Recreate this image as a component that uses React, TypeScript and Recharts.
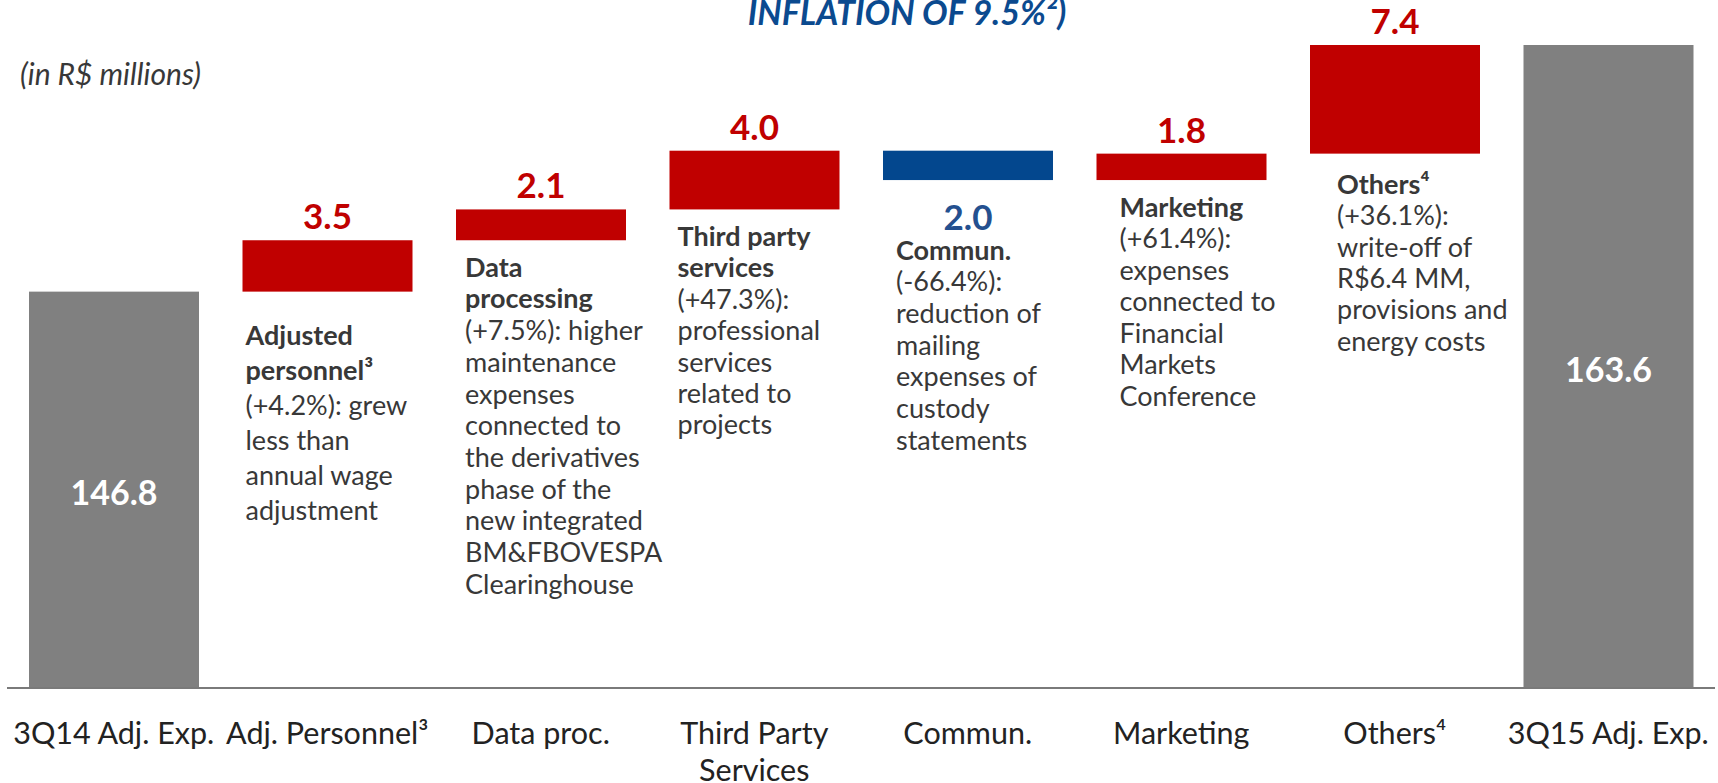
import React from "react";
import { BarChart, Bar, XAxis, YAxis } from "recharts";

// categories along the x axis ("\n" = line break in the tick)
const categories = [
  "3Q14 Adj. Exp.",
  "Adj. Personnel³",
  "Data proc.",
  "Third Party\nServices",
  "Commun.",
  "Marketing",
  "Others⁴",
  "3Q15 Adj. Exp.",
];

// totals and the changes between them, R$ millions
const changes = [146.8, 3.5, 2.1, 4.0, -2.0, 1.8, 7.4, 163.6];
const steps = ["total", "up", "up", "up", "down", "up", "up", "total"];

// bold heading of each comment, then the plain lines
const noteHeads = [
  [],
  ["Adjusted", "personnel³"],
  ["Data", "processing"],
  ["Third party", "services"],
  ["Commun."],
  ["Marketing"],
  ["Others⁴"],
  [],
];
const noteBodies = [
  [],
  ["(+4.2%): grew", "less than", "annual wage", "adjustment"],
  [
    "(+7.5%): higher",
    "maintenance",
    "expenses",
    "connected to",
    "the derivatives",
    "phase of the",
    "new integrated",
    "BM&FBOVESPA",
    "Clearinghouse",
  ],
  ["(+47.3%):", "professional", "services", "related to", "projects"],
  ["(-66.4%):", "reduction of", "mailing", "expenses of", "custody", "statements"],
  ["(+61.4%):", "expenses", "connected to", "Financial", "Markets", "Conference"],
  ["(+36.1%):", "write-off of", "R$6.4 MM,", "provisions and", "energy costs"],
  [],
];

// the value axis is cut, bars start at this value
const AXIS_MIN = 119.8;
const AXIS_MAX = 163.6;

const RED = "#C00000";
const BLUE = "#03478E";
const BLUE_TEXT = "#24508F";
const GRAY = "#808080";
const TEXT = "#383838";
const FONT = "Lato, 'Open Sans', sans-serif";

// where the comment block sits under each bar (px)
const NOTE_DX = [0, 3, 9, 8, 13, 23, 27, 0];
const NOTE_GAP = [0, 43, 26, 26, 69, 26, 30, 0];
const NOTE_LEADING = [0, 35, 31.7, 31.4, 31.7, 31.5, 31.3, 0];

let running = 0;
const data = categories.map((name, i) => {
  const start = running;
  if (steps[i] === "total") {
    running = changes[i];
    return { name, span: [AXIS_MIN, changes[i]], idx: i };
  }
  running = Math.round((running + changes[i]) * 10) / 10;
  return {
    name,
    span: [Math.min(start, running), Math.max(start, running)],
    idx: i,
  };
});

const WaterfallBar = (props: any) => {
  const { x, y, width, height, payload } = props;
  const i = payload.idx;
  const top = height < 0 ? y + height : y;
  const h = Math.abs(height);
  const bottom = top + h;
  const cx = x + width / 2;
  const step = steps[i];
  const fill = step === "total" ? GRAY : step === "down" ? BLUE : RED;
  const label = Math.abs(changes[i]).toFixed(1);
  const lines = [
    ...noteHeads[i].map((t) => ({ t, bold: true })),
    ...noteBodies[i].map((t) => ({ t, bold: false })),
  ];

  return (
    <g fontFamily={FONT}>
      <rect x={x} y={top} width={width} height={h} fill={fill} />
      {step === "total" && (
        <text
          x={cx}
          y={top + h / 2 + 2}
          dominantBaseline="central"
          textAnchor="middle"
          fill="#fff"
          fontSize={34}
          fontWeight={700}
        >
          {label}
        </text>
      )}
      {step === "up" && (
        <text
          x={cx}
          y={top - 25}
          dominantBaseline="central"
          textAnchor="middle"
          fill={RED}
          fontSize={35}
          fontWeight={700}
        >
          {label}
        </text>
      )}
      {step === "down" && (
        <text
          x={cx}
          y={bottom + 36}
          dominantBaseline="central"
          textAnchor="middle"
          fill={BLUE_TEXT}
          fontSize={35}
          fontWeight={700}
        >
          {label}
        </text>
      )}
      {lines.map((line, k) => (
        <text
          key={k}
          x={x + NOTE_DX[i]}
          y={bottom + NOTE_GAP[i] + k * NOTE_LEADING[i]}
          dominantBaseline="central"
          fill={TEXT}
          fontSize={27}
          fontWeight={line.bold ? 700 : 400}
        >
          {line.t}
        </text>
      ))}
    </g>
  );
};

const CategoryTick = (props: any) => {
  const { x, y, payload } = props;
  const lines = String(payload.value).split("\n");
  return (
    <g>
      {lines.map((line, k) => (
        <text
          key={k}
          x={x}
          y={y + 44 + k * 37}
          textAnchor="middle"
          dominantBaseline="central"
          fill="#222"
          fontSize={30.5}
          fontFamily={FONT}
        >
          {line}
        </text>
      ))}
    </g>
  );
};

export default function App() {
  return (
    <div
      style={{
        position: "absolute",
        left: 0,
        top: 0,
        width: 1718,
        height: 783,
        background: "#fff",
        overflow: "hidden",
      }}
    >
      <BarChart
        width={1718}
        height={783}
        data={data}
        margin={{ top: 45, right: 3, bottom: 0, left: 7 }}
      >
        <XAxis
          dataKey="name"
          height={95}
          interval={0}
          tickLine={false}
          tickSize={0}
          tickMargin={0}
          axisLine={{ stroke: "#7a7a7a", strokeWidth: 2 }}
          tick={<CategoryTick />}
        />
        <YAxis hide type="number" domain={[AXIS_MIN, AXIS_MAX]} />
        <Bar
          dataKey="span"
          barSize={170}
          isAnimationActive={false}
          shape={<WaterfallBar />}
        />
      </BarChart>
      <svg
        width={1718}
        height={783}
        style={{ position: "absolute", left: 0, top: 0, pointerEvents: "none" }}
      >
        <text
          x={907}
          y={25}
          textAnchor="middle"
          fill="#0B4A8F"
          fontSize={34}
          fontWeight={700}
          fontStyle="italic"
          fontFamily={FONT}
        >
          INFLATION OF 9.5%²)
        </text>
        <text
          x={20}
          y={73}
          dominantBaseline="central"
          fill={TEXT}
          fontSize={30}
          fontStyle="italic"
          fontFamily={FONT}
        >
          (in R$ millions)
        </text>
      </svg>
    </div>
  );
}
